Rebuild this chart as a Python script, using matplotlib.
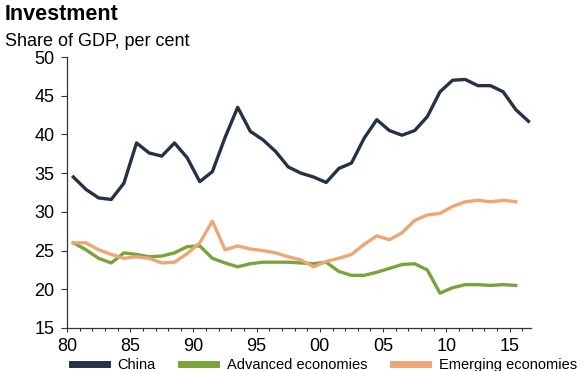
# use python3

import matplotlib
matplotlib.use("Agg")
import matplotlib.pyplot as plt
import numpy as np

plt.rcParams['font.family'] = ['Liberation Sans', 'DejaVu Sans']

# Investment, share of GDP, per cent
years = list(range(1980, 2017))
china = [34.5, 32.9, 31.8, 31.6, 33.7, 38.9, 37.6, 37.2, 38.9, 37.0,
         33.9, 35.2, 39.6, 43.5, 40.4, 39.3, 37.8, 35.8, 35.0, 34.5,
         33.8, 35.6, 36.3, 39.5, 41.9, 40.5, 39.9, 40.5, 42.3, 45.5,
         47.0, 47.1, 46.3, 46.3, 45.5, 43.2, 41.7]
advanced = [26.0, 25.1, 24.0, 23.4, 24.7, 24.5, 24.2, 24.3, 24.7, 25.5,
            25.6, 24.0, 23.4, 22.9, 23.3, 23.5, 23.5, 23.5, 23.4, 23.3,
            23.5, 22.3, 21.8, 21.8, 22.2, 22.7, 23.2, 23.3, 22.5, 19.5,
            20.2, 20.6, 20.6, 20.5, 20.6, 20.5]
emerging = [26.0, 26.0, 25.1, 24.5, 24.0, 24.2, 24.0, 23.4, 23.5, 24.6,
            26.0, 28.8, 25.1, 25.6, 25.2, 25.0, 24.7, 24.2, 23.8, 22.9,
            23.6, 24.0, 24.5, 25.8, 26.9, 26.4, 27.3, 28.9, 29.6, 29.8,
            30.7, 31.3, 31.5, 31.3, 31.5, 31.3]
tick_years = [1980, 1985, 1990, 1995, 2000, 2005, 2010, 2015]
tick_labels = ['80', '85', '90', '95', '00', '05', '10', '15']

fig = plt.figure(figsize=(5.85, 3.71), dpi=100)
ax = fig.add_axes([67/585, 1 - 328/371, (531 - 67)/585, (328 - 57)/371])

x = np.array(years) + 0.5
ax.plot(x, china, color='#253246', lw=2.4, label='China', solid_joinstyle='round')
ax.plot(x[:len(advanced)], advanced, color='#7ba33c', lw=2.4,
        label='Advanced economies', solid_joinstyle='round')
ax.plot(x[:len(emerging)], emerging, color='#eda774', lw=2.4,
        label='Emerging economies', solid_joinstyle='round')

ax.set_xlim(1980, 2016.7)
ax.set_ylim(15, 50)
ax.set_yticks(range(15, 51, 5))
ax.set_xticks(tick_years)
ax.set_xticklabels(tick_labels)
ax.set_xticks(years, minor=True)
ax.tick_params(axis='both', labelsize=13, color='#333333', width=0.8)
ax.tick_params(axis='x', length=3, pad=4)
ax.tick_params(axis='x', which='minor', length=2.5, width=0.6)
ax.tick_params(axis='y', length=4, pad=5)
for s in ['top', 'right']:
    ax.spines[s].set_visible(False)
for s in ['left', 'bottom']:
    ax.spines[s].set_color('#333333')
    ax.spines[s].set_linewidth(0.9)

fig.text(5/585, 1 - 20/371, 'Investment', fontsize=15.5, fontweight='bold')
fig.text(5/585, 1 - 46/371, 'Share of GDP, per cent', fontsize=13)

fig.legend(loc='upper left', bbox_to_anchor=(60/585, 1 - 346/371), ncol=3,
           frameon=False, fontsize=10.5, handlelength=2.4, columnspacing=1.8,
           handletextpad=0.7, borderpad=0.3)
for line in fig.legends[0].get_lines():
    line.set_linewidth(5)

fig.savefig('out.png', dpi=100)
